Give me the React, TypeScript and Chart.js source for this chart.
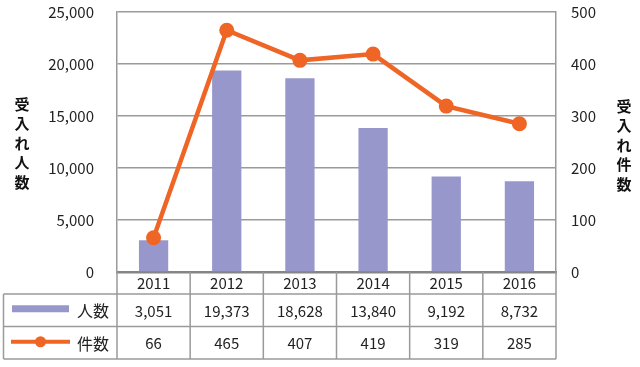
import React, { useEffect, useRef } from "react";
import { Chart, registerables } from "chart.js";

Chart.register(...registerables);

const years = ["2011", "2012", "2013", "2014", "2015", "2016"];
const peopleCounts = [3051, 19373, 18628, 13840, 9192, 8732];
const caseCounts = [66, 465, 407, 419, 319, 285];
const peopleLabel = "人数";
const caseLabel = "件数";
const leftTitle = "受入れ人数";
const rightTitle = "受入れ件数";

const BAR_COLOR = "#9797cb";
const LINE_COLOR = "#ee6526";
const GRID_COLOR = "#9a9a9a";
const TEXT_COLOR = "#222222";
const FONT = "'Noto Sans CJK JP', 'Noto Sans', sans-serif";

const fmt = (v: number) => v.toLocaleString("en-US");

const tablePlugin = {
  id: "dataTable",
  afterDraw(chart: any) {
    const ctx = chart.ctx as CanvasRenderingContext2D;
    const area = chart.chartArea;
    const xs = chart.scales.x;
    const n = years.length;
    const colW = area.width / n;
    const y0 = area.bottom;
    const y1 = y0 + 22;
    const y2 = y1 + 32.5;
    const y3 = y2 + 32.5;
    const tableLeft = 3.5;

    ctx.save();
    ctx.strokeStyle = GRID_COLOR;
    ctx.lineWidth = 1.5;
    ctx.beginPath();
    [y1, y2, y3].forEach((y) => {
      ctx.moveTo(tableLeft, y);
      ctx.lineTo(area.right, y);
    });
    ctx.moveTo(tableLeft, y1);
    ctx.lineTo(tableLeft, y3);
    for (let i = 0; i <= n; i++) {
      const bx = area.left + i * colW;
      ctx.moveTo(bx, y0);
      ctx.lineTo(bx, y3);
    }
    ctx.stroke();

    ctx.fillStyle = TEXT_COLOR;
    ctx.font = `15px ${FONT}`;
    ctx.textAlign = "center";
    ctx.textBaseline = "middle";
    for (let i = 0; i < n; i++) {
      const cx = xs.getPixelForValue(i);
      ctx.fillText(fmt(peopleCounts[i]), cx, (y1 + y2) / 2 + 1);
      ctx.fillText(fmt(caseCounts[i]), cx, (y2 + y3) / 2 + 1);
    }

    // legend keys
    const rowA = (y1 + y2) / 2;
    const rowB = (y2 + y3) / 2;
    ctx.fillStyle = BAR_COLOR;
    ctx.fillRect(12, rowA - 5, 57, 7);
    ctx.strokeStyle = LINE_COLOR;
    ctx.lineWidth = 4;
    ctx.beginPath();
    ctx.moveTo(11, rowB - 1);
    ctx.lineTo(70, rowB - 1);
    ctx.stroke();
    ctx.fillStyle = LINE_COLOR;
    ctx.beginPath();
    ctx.arc(40.5, rowB - 1, 5.5, 0, Math.PI * 2);
    ctx.fill();

    ctx.fillStyle = TEXT_COLOR;
    ctx.font = `16px ${FONT}`;
    ctx.textAlign = "right";
    ctx.fillText(peopleLabel, 109, rowA + 1);
    ctx.fillText(caseLabel, 109, rowB + 1);

    // vertical axis titles
    ctx.font = `bold 15px ${FONT}`;
    ctx.textAlign = "center";
    ctx.fillStyle = "#111111";
    const step = 19.5;
    const drawVertical = (text: string, x: number, cy: number) => {
      const chars = Array.from(text);
      const start = cy - ((chars.length - 1) * step) / 2;
      chars.forEach((c, k) => ctx.fillText(c, x, start + k * step));
    };
    drawVertical(leftTitle, 22, 143);
    drawVertical(rightTitle, 624, 145);
    ctx.restore();
  },
};

export default function App() {
  const ref = useRef<HTMLCanvasElement>(null);

  useEffect(() => {
    document.body.style.margin = "0";
    const chart = new Chart(ref.current as HTMLCanvasElement, {
      type: "bar",
      data: {
        labels: years,
        datasets: [
          {
            type: "line",
            label: caseLabel,
            data: caseCounts,
            yAxisID: "y1",
            borderColor: LINE_COLOR,
            backgroundColor: LINE_COLOR,
            borderWidth: 4.5,
            pointRadius: 7.5,
            pointBackgroundColor: LINE_COLOR,
            pointBorderWidth: 0,
            tension: 0,
            order: 1,
          } as any,
          {
            type: "bar",
            label: peopleLabel,
            data: peopleCounts,
            yAxisID: "y",
            backgroundColor: BAR_COLOR,
            categoryPercentage: 1,
            barPercentage: 0.4,
            order: 2,
          },
        ],
      },
      options: {
        animation: false,
        responsive: true,
        maintainAspectRatio: false,
        layout: { padding: { top: 12, left: 0, right: 0, bottom: 0 } },
        plugins: {
          legend: { display: false },
          tooltip: { enabled: false },
        },
        scales: {
          x: {
            grid: { display: false, drawTicks: false },
            border: { display: true, color: "#858585", width: 2.5 },
            ticks: {
              color: TEXT_COLOR,
              font: { size: 15, family: FONT },
              padding: 2,
              maxRotation: 0,
            },
            afterFit: (s: any) => {
              s.height = 95;
              s.paddingLeft = 0;
              s.paddingRight = 0;
            },
          },
          y: {
            position: "left",
            min: 0,
            max: 25000,
            ticks: {
              stepSize: 5000,
              color: TEXT_COLOR,
              font: { size: 15, family: FONT },
              padding: 23,
              callback: (v: any) => fmt(Number(v)),
            },
            grid: { color: GRID_COLOR, lineWidth: 1.5, drawTicks: false },
            border: { display: true, color: GRID_COLOR, width: 1.5 },
            afterFit: (s: any) => {
              s.width = 117;
              s.paddingTop = 0;
              s.paddingBottom = 0;
            },
          },
          y1: {
            position: "right",
            min: 0,
            max: 500,
            ticks: {
              stepSize: 100,
              color: TEXT_COLOR,
              font: { size: 15, family: FONT },
              padding: 15,
            },
            grid: { display: false, drawTicks: false },
            border: { display: true, color: GRID_COLOR, width: 1.5 },
            afterFit: (s: any) => {
              s.width = 84;
              s.paddingTop = 0;
              s.paddingBottom = 0;
            },
          },
        },
      },
      plugins: [tablePlugin],
    });
    return () => chart.destroy();
  }, []);

  return (
    <div style={{ position: "fixed", left: 0, top: 0, width: 640, height: 367, background: "#fff" }}>
      <canvas ref={ref} />
    </div>
  );
}
